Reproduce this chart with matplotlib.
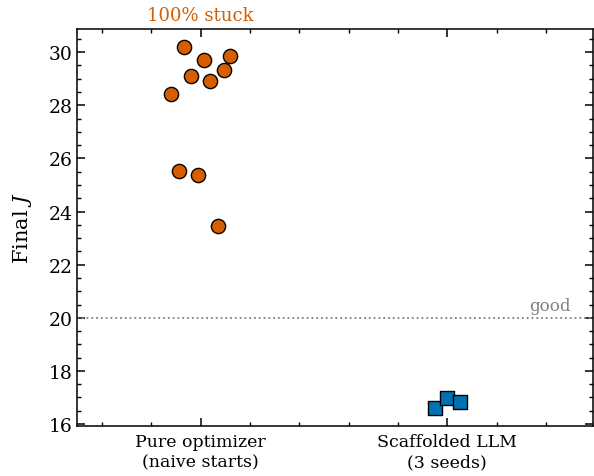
import matplotlib
matplotlib.use("Agg")
import matplotlib.pyplot as plt
from matplotlib.ticker import MultipleLocator

# data
categories = ["Pure optimizer\n(naive starts)", "Scaffolded LLM\n(3 seeds)"]
naive_x = [-0.068, 0.121, 0.013, 0.097, -0.038, 0.040, -0.119, -0.088, -0.011, 0.070]
naive_J = [30.19, 29.87, 29.71, 29.32, 29.10, 28.93, 28.44, 25.54, 25.38, 23.44]
llm_x = [0.951, 1.000, 1.051]
llm_J = [16.59, 16.99, 16.82]
good_level = 20.0

orange = "#D55E00"
blue = "#0072B2"

plt.rcParams["font.family"] = "DejaVu Serif"
plt.rcParams["mathtext.fontset"] = "dejavuserif"

fig, ax = plt.subplots(figsize=(5.94, 4.77), dpi=100)
fig.subplots_adjust(left=0.13, right=0.998, bottom=0.105, top=0.937)

ax.scatter(naive_x, naive_J, s=105, marker="o", color=orange,
           edgecolor="black", linewidth=1.0, zorder=3)
ax.scatter(llm_x, llm_J, s=110, marker="s", color=blue,
           edgecolor="black", linewidth=1.0, zorder=3)

ax.axhline(good_level, color="gray", linestyle=":", linewidth=1.3)
ax.text(1.5, good_level + 0.15, "good", color="gray", ha="right",
        va="bottom", fontsize=12)
ax.text(0, 31.05, "100% stuck", color=orange, ha="center", va="bottom",
        fontsize=13)

ax.set_xlim(-0.5, 1.59)
ax.set_ylim(15.93, 30.87)
ax.set_xticks([0, 1])
ax.set_xticklabels(categories, fontsize=12.5, linespacing=1.3)
ax.set_yticks([16, 18, 20, 22, 24, 26, 28, 30])
ax.tick_params(axis="y", labelsize=13.5)
ax.tick_params(axis="x", pad=5)
ax.xaxis.set_minor_locator(MultipleLocator(0.2))
ax.yaxis.set_minor_locator(MultipleLocator(0.5))
ax.tick_params(which="both", direction="in", top=True, right=True)
ax.tick_params(which="major", length=6, width=1.1)
ax.tick_params(which="minor", length=3, width=1.0)
for sp in ax.spines.values():
    sp.set_linewidth(1.1)

ax.set_ylabel("Final $J$", fontsize=15, labelpad=10)

fig.savefig("out.png", dpi=100)
